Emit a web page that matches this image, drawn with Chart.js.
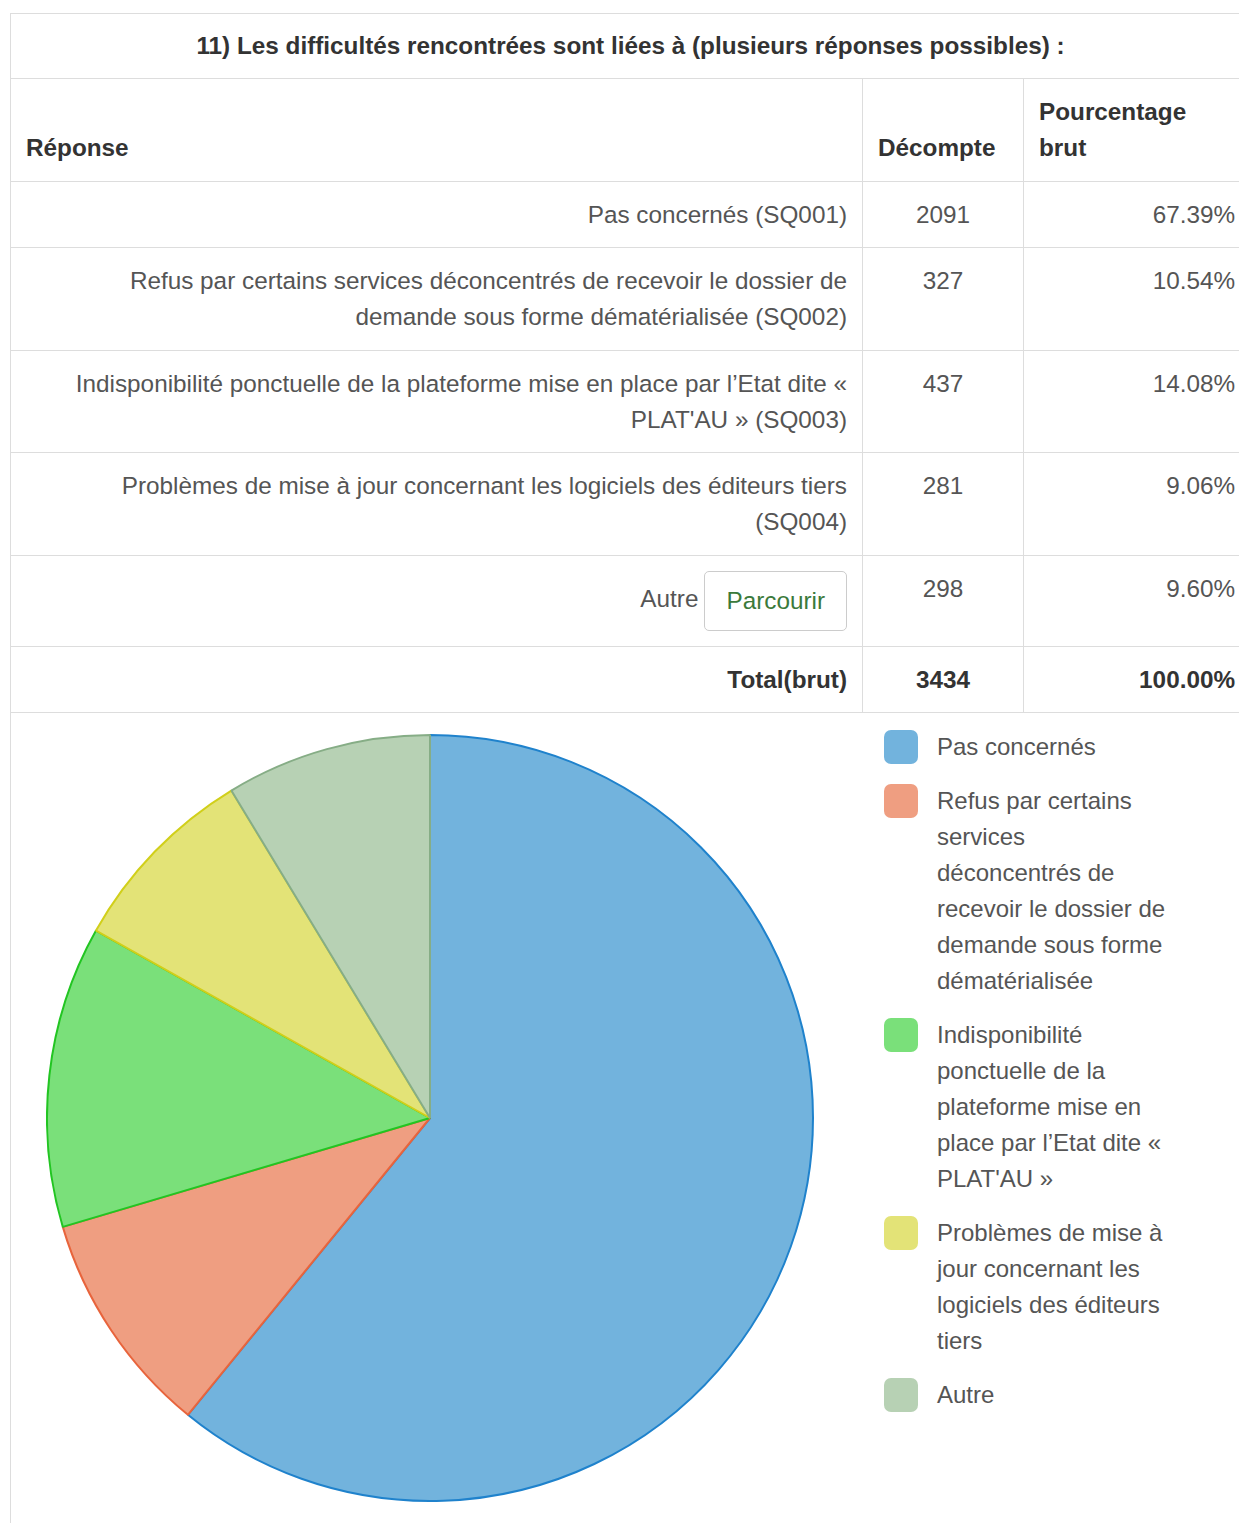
<!DOCTYPE html>
<html>
<head>
<meta charset="utf-8">
<script src="https://cdn.jsdelivr.net/npm/chart.js@4/dist/chart.umd.min.js"></script>
<style>
html, body { margin: 0; padding: 0; background: #fff; }
body { width: 1239px; height: 1523px; overflow: hidden; position: relative;
  font-family: "Liberation Sans", Arial, sans-serif; font-size: 24px; color: #555; }
table { position: absolute; left: 10px; top: 13px; width: 1240px; border-collapse: collapse; table-layout: fixed; font-size: 24.3px; }
td, th { border: 1px solid #ddd; padding: 15px 15px 14.6px; line-height: 36px; vertical-align: top; }
th { color: #333; font-weight: bold; text-align: left; vertical-align: bottom; }
th.title { text-align: center; padding: 14px 15px 14px; }
td.lab { text-align: right; padding-left: 57px; }
td.cnt { text-align: center; }
td.pct { text-align: right; }
tr.total td { font-weight: bold; color: #333; }
.btn { display: inline-block; border: 1px solid #ccc; border-radius: 5px; padding: 11px 21px; line-height: 36px;
  color: #3b7a3b; margin-left: 6px; vertical-align: middle; }
#chartBox { position: absolute; left: 10px; top: 713px; width: 1240px; height: 810px; border-left: 1px solid #ddd; }
#pieWrap { position: absolute; left: 35px; top: 15px; width: 768px; height: 780px; }
#legend { position: absolute; left: 873px; top: 16px; width: 320px; }
.item { position: relative; padding-left: 53px; margin-bottom: 18px; line-height: 36px; color: #555; width: 234px; }
.box { position: absolute; left: 0; top: 1px; width: 34px; height: 34px; border-radius: 7px; }
</style>
</head>
<body>
<table id="tbl">
  <colgroup><col style="width:852px"><col style="width:161px"><col style="width:227px"></colgroup>
  <thead>
    <tr><th class="title" colspan="3">11) Les difficultés rencontrées sont liées à (plusieurs réponses possibles) :</th></tr>
    <tr><th>Réponse</th><th>Décompte</th><th>Pourcentage<br>brut</th></tr>
  </thead>
  <tbody id="rows"></tbody>
</table>
<div id="chartBox">
  <div id="pieWrap"><canvas id="pie"></canvas></div>
  <div id="legend"></div>
</div>
<script>
const answers = [
  'Pas concernés (SQ001)',
  'Refus par certains services déconcentrés de recevoir le dossier de demande sous forme dématérialisée (SQ002)',
  'Indisponibilité ponctuelle de la plateforme mise en place par l’Etat dite « PLAT\'AU » (SQ003)',
  'Problèmes de mise à jour concernant les logiciels des éditeurs tiers (SQ004)',
  'Autre'
];
const labels = [
  'Pas concernés',
  'Refus par certains services déconcentrés de recevoir le dossier de demande sous forme dématérialisée',
  'Indisponibilité ponctuelle de la plateforme mise en place par l’Etat dite « PLAT\'AU »',
  'Problèmes de mise à jour concernant les logiciels des éditeurs tiers',
  'Autre'
];
const counts = [2091, 327, 437, 281, 298];
const percents = ['67.39%', '10.54%', '14.08%', '9.06%', '9.60%'];
const total = 3434;
const totalPct = '100.00%';

const fills = ['#72b3dd', '#ef9e81', '#7ae07a', '#e3e377', '#b7d1b4'];
const borders = ['#1f82cc', '#e8643c', '#22c522', '#d1cf1a', '#86ad86'];

// table
const tb = document.getElementById('rows');
answers.forEach((a, i) => {
  const tr = document.createElement('tr');
  let lab = a;
  if (a === 'Autre') lab = 'Autre<span class="btn">Parcourir</span>';
  tr.innerHTML = '<td class="lab">' + lab + '</td><td class="cnt">' + counts[i] + '</td><td class="pct">' + percents[i] + '</td>';
  tb.appendChild(tr);
});
const trt = document.createElement('tr');
trt.className = 'total';
trt.innerHTML = '<td class="lab">Total(brut)</td><td class="cnt">' + total + '</td><td class="pct">' + totalPct + '</td>';
tb.appendChild(trt);

// legend
const lg = document.getElementById('legend');
labels.forEach((l, i) => {
  const d = document.createElement('div');
  d.className = 'item';
  d.innerHTML = '<span class="box" style="background:' + fills[i] + '"></span>' + l;
  lg.appendChild(d);
});

new Chart(document.getElementById('pie'), {
  type: 'pie',
  data: {
    labels: labels,
    datasets: [{
      data: counts,
      backgroundColor: fills,
      borderColor: borders,
      borderWidth: 2
    }]
  },
  options: {
    responsive: true,
    maintainAspectRatio: false,
    animation: false,
    layout: { padding: 0 },
    plugins: { legend: { display: false }, tooltip: { enabled: false } }
  }
});
</script>
</body>
</html>
